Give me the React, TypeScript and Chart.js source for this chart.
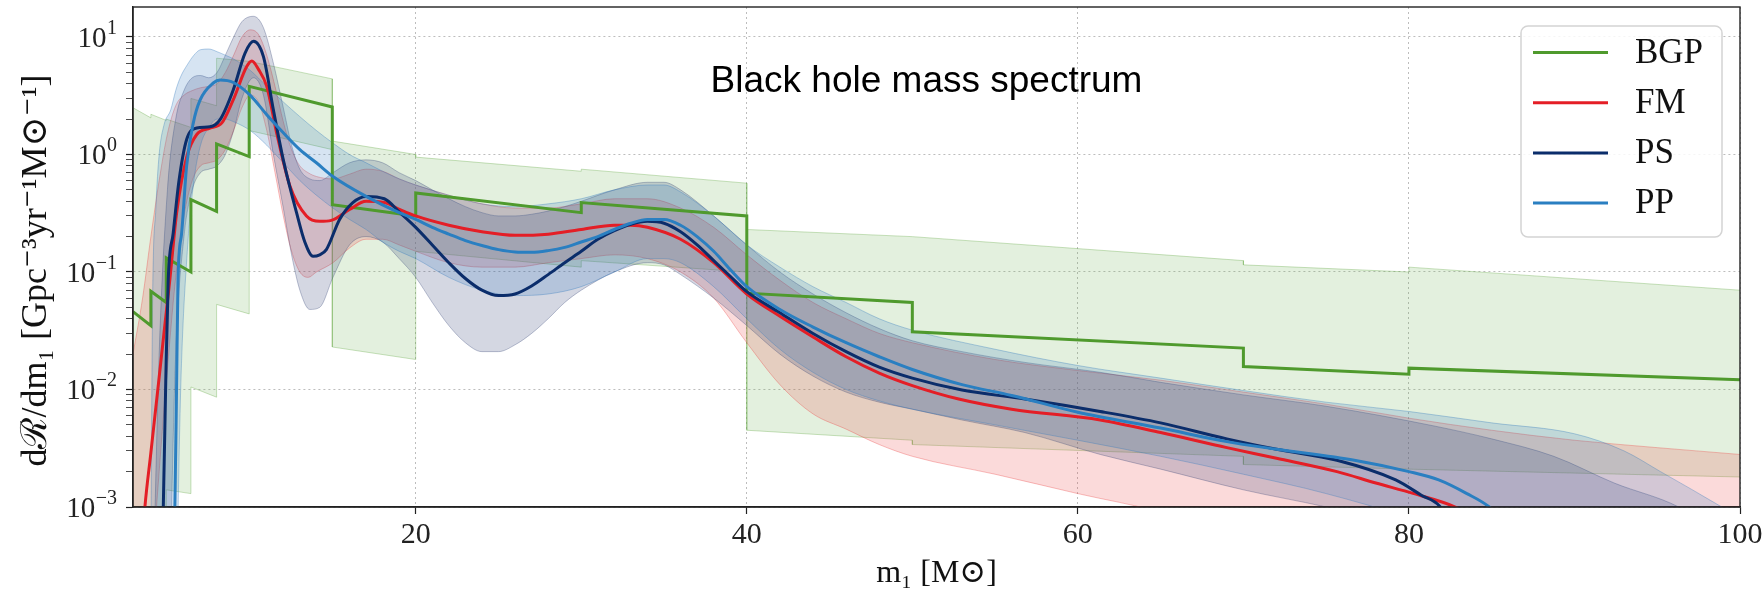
import React, { useEffect, useRef } from "react";
import { Chart, registerables } from "chart.js";

Chart.register(...registerables);

// ---------------- data ----------------
const xTickValues = [20, 40, 60, 80, 100];
const xTickLabels = ["20", "40", "60", "80", "100"];
const yTickValues = [0.001, 0.01, 0.1, 1, 10];
const yTickBase = "10";
const yTickExponents = ["−3", "−2", "−1", "0", "1"];
const yMinorTicks = [
  0.002, 0.003, 0.004, 0.005, 0.006, 0.007, 0.008, 0.009,
  0.02, 0.03, 0.04, 0.05, 0.06, 0.07, 0.08, 0.09,
  0.2, 0.3, 0.4, 0.5, 0.6, 0.7, 0.8, 0.9,
  2, 3, 4, 5, 6, 7, 8, 9,
];

const seriesLabels = ["BGP", "FM", "PS", "PP"];

// BGP (binned, step-like)
const bgpMass = [2.92, 4.0, 4.0, 4.93, 4.93, 6.42, 6.42, 7.97, 7.97, 9.94, 9.94, 14.96, 14.96, 20, 20, 30, 30, 40, 40, 50, 50, 70, 70, 80, 80, 100];
const bgpRate = [0.046, 0.035, 0.0686, 0.055, 0.132, 0.1, 0.413, 0.328, 1.23, 0.96, 3.8, 2.54, 0.374, 0.3, 0.47, 0.32, 0.39, 0.3, 0.066, 0.055, 0.031, 0.0225, 0.0157, 0.0135, 0.0152, 0.0121];
const bgpHigh = [2.5, 2.05, 2.2, 1.95, 2.0, 1.7, 3.0, 2.6, 6.6, 6.2, 6.2, 4.4, 1.3, 1.0, 0.95, 0.72, 0.75, 0.57, 0.23, 0.2, 0.2, 0.125, 0.115, 0.1, 0.11, 0.07];
const bgpLow = [0.0008, 0.0008, 0.0009, 0.0009, 0.0014, 0.0013, 0.0105, 0.0086, 0.053, 0.044, 1.6, 1.1, 0.023, 0.018, 0.15, 0.11, 0.125, 0.1, 0.0045, 0.0037, 0.0034, 0.0027, 0.0023, 0.0021, 0.0021, 0.0018];

// FM
const fmMass = [3.4, 3.64, 4.0, 4.5, 5.0, 5.15, 5.56, 6.17, 6.77, 7.57, 8.28, 8.98, 9.79, 10.1, 10.5, 11.0, 11.6, 12.4, 13.4, 14.2, 14.9, 16.0, 17.0, 18.1, 19.05, 20, 22, 24, 26, 28, 30, 32, 33, 34, 36, 38, 40, 42, 44, 46, 48, 50, 52.8, 56, 61.35, 65, 69, 72, 75.65, 78, 80.3, 82.8, 84];
const fmRate = [0.00034, 0.001, 0.0029, 0.0127, 0.056, 0.087, 0.32, 0.96, 1.48, 1.68, 1.85, 2.93, 5.6, 6.25, 5.3, 3.8, 1.52, 0.54, 0.3, 0.27, 0.275, 0.34, 0.4, 0.39, 0.34, 0.3, 0.25, 0.22, 0.205, 0.21, 0.23, 0.25, 0.25, 0.24, 0.19, 0.12, 0.065, 0.042, 0.028, 0.019, 0.0138, 0.0108, 0.0083, 0.0068, 0.0055, 0.0043, 0.0032, 0.0026, 0.002, 0.0016, 0.0013, 0.001, 0.0008];
const fmBandMass = [2.92, 3.5, 4.0, 4.5, 5.0, 5.5, 6.0, 6.5, 7.0, 7.5, 8.0, 8.5, 9.0, 9.5, 10.0, 10.5, 11.0, 11.5, 12.0, 12.5, 13.0, 13.5, 14, 15, 16, 17, 18, 19, 20, 22, 24, 26, 28, 30, 32, 34, 36, 38, 40, 42, 44, 46, 48, 50, 55, 60, 65, 70, 75, 80, 85, 90, 95, 100];
const fmHigh = [0.02, 0.06, 0.2, 0.6, 1.5, 2.6, 3.2, 3.5, 3.7, 3.8, 4.0, 5.0, 7.0, 10.0, 11.5, 10.5, 7.0, 3.8, 1.9, 1.1, 0.8, 0.7, 0.65, 0.62, 0.68, 0.75, 0.72, 0.62, 0.55, 0.45, 0.38, 0.35, 0.35, 0.38, 0.42, 0.42, 0.35, 0.24, 0.14, 0.085, 0.055, 0.04, 0.03, 0.025, 0.018, 0.0145, 0.012, 0.0095, 0.0075, 0.0057, 0.0045, 0.0037, 0.0032, 0.0028];
const fmLow = [0.00001, 0.00001, 0.0002, 0.002, 0.015, 0.09, 0.3, 0.6, 0.8, 0.85, 0.9, 1.1, 1.6, 2.5, 3.2, 2.8, 1.6, 0.7, 0.3, 0.15, 0.1, 0.09, 0.1, 0.12, 0.16, 0.19, 0.19, 0.17, 0.15, 0.12, 0.11, 0.11, 0.12, 0.13, 0.14, 0.13, 0.1, 0.06, 0.025, 0.011, 0.0062, 0.0046, 0.0034, 0.0027, 0.0019, 0.0013, 0.0009, 0.0005, 0.0003, 0.0002, 0.0001, 0.0001, 0.0001, 0.0001];

// PS
const psMass = [4.6, 4.75, 4.9, 5.05, 5.35, 5.7, 6.16, 6.77, 7.57, 8.18, 8.98, 9.69, 10.2, 10.8, 11.4, 12.0, 12.8, 13.3, 13.8, 14.2, 14.6, 15.4, 16.2, 17.0, 18.1, 19.05, 20, 21, 22, 23, 24, 25, 26, 27, 28, 29, 30, 31, 32, 33, 34, 35, 36, 37, 38, 39, 40, 42, 44, 46, 48, 50, 53, 56.8, 61.35, 65, 69, 72, 75.65, 79.2, 80.75, 81.9, 82.5];
const psRate = [0.0003, 0.001, 0.012, 0.087, 0.215, 0.6, 1.34, 1.68, 1.72, 1.98, 3.56, 7.3, 9.2, 6.8, 2.4, 0.9, 0.32, 0.18, 0.136, 0.14, 0.155, 0.28, 0.39, 0.44, 0.42, 0.32, 0.24, 0.17, 0.12, 0.088, 0.07, 0.063, 0.065, 0.076, 0.095, 0.12, 0.15, 0.19, 0.225, 0.255, 0.27, 0.26, 0.22, 0.17, 0.125, 0.092, 0.068, 0.045, 0.03, 0.021, 0.0155, 0.0125, 0.0099, 0.0083, 0.0065, 0.0052, 0.0038, 0.0031, 0.0025, 0.0017, 0.00126, 0.001, 0.0007];
const psBandMass = [4.2, 4.5, 5.0, 5.5, 6.0, 6.5, 7.0, 7.5, 8.0, 8.5, 9.0, 9.5, 10.2, 10.8, 11.4, 12.0, 12.5, 13.0, 13.6, 14.2, 15, 16, 17, 18, 19, 20, 21, 22, 23, 24, 25, 26, 27, 28, 29, 30, 32, 34, 35, 36, 38, 40, 42, 44, 46, 48, 50, 53, 56.8, 61.35, 65, 70, 75, 81.5, 85, 88.75, 92.4, 96.3, 98];
const psHigh = [0.0005, 0.02, 0.5, 2.0, 3.5, 4.5, 4.7, 4.5, 5.0, 7.0, 10.0, 13.5, 15.0, 12.0, 6.0, 2.5, 1.2, 0.75, 0.62, 0.6, 0.7, 0.85, 0.9, 0.85, 0.7, 0.6, 0.5, 0.42, 0.36, 0.32, 0.3, 0.3, 0.31, 0.33, 0.36, 0.4, 0.5, 0.58, 0.58, 0.5, 0.3, 0.17, 0.1, 0.065, 0.045, 0.033, 0.026, 0.021, 0.017, 0.014, 0.0115, 0.009, 0.0072, 0.0049, 0.0038, 0.0027, 0.0016, 0.001, 0.0007];
const psLow = [0.00001, 0.00001, 0.00005, 0.02, 0.2, 0.5, 0.7, 0.75, 0.8, 1.0, 1.6, 3.0, 4.5, 3.2, 1.0, 0.35, 0.14, 0.07, 0.048, 0.05, 0.09, 0.17, 0.2, 0.18, 0.13, 0.09, 0.055, 0.035, 0.025, 0.021, 0.021, 0.024, 0.03, 0.04, 0.055, 0.07, 0.1, 0.12, 0.115, 0.095, 0.06, 0.035, 0.02, 0.013, 0.0095, 0.0078, 0.0068, 0.0055, 0.0043, 0.0028, 0.0021, 0.0014, 0.001, 0.0006, 0.0003, 0.0002, 0.0001, 0.0001, 0.0001];

// PP
const ppMass = [5.35, 5.45, 5.55, 5.64, 5.86, 6.16, 6.56, 6.97, 7.77, 8.18, 8.98, 9.99, 11, 12, 13, 14, 15, 17, 19, 20, 21, 22, 23, 24, 25, 26, 27, 28, 29, 30, 31, 32, 33, 34, 35, 36, 37, 38, 39, 40, 42, 44, 46, 48, 50, 53, 56, 60, 65, 69, 72, 76.7, 80, 81.8, 83.5, 84.85, 85.5];
const ppRate = [0.0003, 0.001, 0.01, 0.087, 0.215, 0.8, 1.85, 2.9, 4.06, 4.3, 4.1, 3.2, 2.18, 1.53, 1.1, 0.85, 0.65, 0.44, 0.32, 0.28, 0.24, 0.21, 0.185, 0.168, 0.155, 0.148, 0.147, 0.152, 0.162, 0.18, 0.2, 0.23, 0.26, 0.28, 0.28, 0.25, 0.2, 0.15, 0.105, 0.075, 0.048, 0.034, 0.025, 0.019, 0.0148, 0.011, 0.0089, 0.0064, 0.0047, 0.0036, 0.0031, 0.0025, 0.002, 0.0017, 0.0013, 0.001, 0.0008];
const ppBandMass = [4.0, 4.1, 4.3, 4.5, 4.8, 5.2, 5.5, 5.8, 6.2, 6.6, 7.0, 7.5, 8.0, 8.5, 9.0, 10, 11, 12, 13, 14, 15, 16, 17, 18, 19, 20, 22, 24, 26, 28, 30, 32, 34, 35, 36, 38, 40, 42, 44, 46, 48, 50, 55, 60, 65, 70, 75, 80, 85, 90, 93, 95.2, 98.9, 100];
const ppHigh = [0.0005, 0.05, 0.35, 1.0, 1.8, 2.4, 3.5, 4.6, 5.8, 7.0, 7.8, 7.9, 7.5, 7.0, 6.5, 5.2, 3.8, 2.8, 2.1, 1.6, 1.25, 1.0, 0.85, 0.72, 0.62, 0.55, 0.45, 0.38, 0.36, 0.38, 0.42, 0.5, 0.55, 0.55, 0.48, 0.3, 0.17, 0.11, 0.075, 0.055, 0.04, 0.032, 0.022, 0.016, 0.0125, 0.0098, 0.0078, 0.0065, 0.0052, 0.0042, 0.003, 0.002, 0.001, 0.0008];
const ppLow = [0.00001, 0.00001, 0.00001, 0.00001, 0.00001, 0.00001, 0.0001, 0.01, 0.15, 0.6, 1.2, 1.7, 2.0, 2.0, 1.9, 1.6, 1.2, 0.85, 0.6, 0.45, 0.35, 0.28, 0.23, 0.18, 0.15, 0.13, 0.09, 0.07, 0.063, 0.065, 0.075, 0.1, 0.13, 0.13, 0.12, 0.075, 0.04, 0.022, 0.014, 0.01, 0.008, 0.0068, 0.005, 0.0037, 0.0027, 0.0019, 0.0013, 0.0008, 0.0004, 0.0002, 0.0001, 0.0001, 0.0001, 0.0001];

const chartTitle = "Black hole mass spectrum";
const xAxisTitle = "m₁ [M⊙]";
const yAxisTitle = "dℛ/dm₁ [Gpc⁻³yr⁻¹M⊙⁻¹]   ";

// ---------------- styling ----------------
const SERIF = "'Liberation Serif', 'DejaVu Serif', serif";
const SANS = "'Liberation Sans', Arial, sans-serif";
const lineColors = ["#4f9a2d", "#e41e26", "#0b2d6b", "#2a7fc1"];
const bandFill = [
  "rgba(100,170,70,0.18)",
  "rgba(235,70,70,0.2)",
  "rgba(40,55,110,0.2)",
  "rgba(50,120,190,0.2)",
];
const bandEdge = [
  "rgba(100,170,70,0.35)",
  "rgba(235,70,70,0.35)",
  "rgba(40,55,110,0.3)",
  "rgba(50,120,190,0.35)",
];

const pts = (xs: number[], ys: number[]) => xs.map((x, i) => ({ x, y: ys[i] }));
const isMajor = (v: number) => yTickValues.some((t) => Math.abs(t - v) / t < 1e-6);

export default function App() {
  const ref = useRef<HTMLCanvasElement>(null);

  useEffect(() => {
    document.body.style.margin = "0";
    const canvas = ref.current;
    if (!canvas) return;

    const bandPair = (k: number, xs: number[], lo: number[], hi: number[], smooth: boolean, order: number) => [
      {
        label: seriesLabels[k] + " low",
        data: pts(xs, lo),
        borderColor: bandEdge[k],
        backgroundColor: bandFill[k],
        borderWidth: 1,
        pointRadius: 0,
        fill: false,
        tension: 0,
        cubicInterpolationMode: smooth ? "monotone" : "default",
        order,
      },
      {
        label: seriesLabels[k] + " high",
        data: pts(xs, hi),
        borderColor: bandEdge[k],
        backgroundColor: bandFill[k],
        borderWidth: 1,
        pointRadius: 0,
        fill: "-1",
        tension: 0,
        cubicInterpolationMode: smooth ? "monotone" : "default",
        order,
      },
    ];
    const lineDs = (k: number, xs: number[], ys: number[], smooth: boolean, order: number) => ({
      label: seriesLabels[k],
      data: pts(xs, ys),
      borderColor: lineColors[k],
      backgroundColor: lineColors[k],
      borderWidth: 3,
      pointRadius: 0,
      fill: false,
      tension: 0,
      cubicInterpolationMode: smooth ? "monotone" : "default",
      order,
      isMainLine: true,
    });

    const datasets: any[] = [
      ...bandPair(0, bgpMass, bgpLow, bgpHigh, false, 20),
      ...bandPair(1, fmBandMass, fmLow, fmHigh, true, 19),
      ...bandPair(2, psBandMass, psLow, psHigh, true, 18),
      ...bandPair(3, ppBandMass, ppLow, ppHigh, true, 17),
      lineDs(0, bgpMass, bgpRate, false, 3),
      lineDs(1, fmMass, fmRate, true, 2),
      lineDs(2, psMass, psRate, true, 1),
      lineDs(3, ppMass, ppRate, true, 0),
    ];

    const decorPlugin = {
      id: "frameAndDecor",
      afterDatasetsDraw(chart: any) {
        const { ctx, chartArea: a } = chart;
        ctx.save();
        // title inside the plot
        ctx.fillStyle = "#000";
        ctx.font = `37px ${SANS}`;
        ctx.textAlign = "center";
        ctx.textBaseline = "alphabetic";
        ctx.fillText(chartTitle, (a.left + a.right) / 2 - 10, a.top + 85);
        // frame (all four spines)
        ctx.strokeStyle = "#222";
        ctx.lineWidth = 1.4;
        ctx.strokeRect(a.left, a.top, a.right - a.left, a.bottom - a.top);
        ctx.restore();
      },
      afterDraw(chart: any) {
        const { ctx, chartArea: a } = chart;
        // y tick labels: 10 with raised exponent
        const ys = chart.scales.y;
        ctx.save();
        ctx.fillStyle = "#222";
        ctx.textAlign = "right";
        ctx.textBaseline = "alphabetic";
        const rightEdge = a.left - 16;
        yTickValues.forEach((v, i) => {
          const py = ys.getPixelForValue(v);
          const base = py + 10;
          ctx.font = `20px ${SERIF}`;
          const ew = ctx.measureText(yTickExponents[i]).width;
          ctx.fillText(yTickExponents[i], rightEdge, base - 13);
          ctx.font = `29px ${SERIF}`;
          ctx.fillText(yTickBase, rightEdge - ew - 0.5, base);
        });
        ctx.restore();

        // legend
        const lines = chart.data.datasets.filter((d: any) => d.isMainLine);
        const bx = a.right - 219;
        const by = a.top + 19;
        const bw = 201;
        const bh = 211;
        ctx.save();
        ctx.beginPath();
        (ctx as any).roundRect(bx, by, bw, bh, 7);
        ctx.fillStyle = "rgba(255,255,255,0.85)";
        ctx.fill();
        ctx.strokeStyle = "#d4d4d4";
        ctx.lineWidth = 1.5;
        ctx.stroke();
        ctx.font = `35px ${SERIF}`;
        ctx.textAlign = "left";
        ctx.textBaseline = "middle";
        lines.forEach((d: any, i: number) => {
          const y = by + 26.5 + i * 50.2;
          ctx.strokeStyle = d.borderColor;
          ctx.lineWidth = 3;
          ctx.beginPath();
          ctx.moveTo(bx + 12, y);
          ctx.lineTo(bx + 87, y);
          ctx.stroke();
          ctx.fillStyle = "#111";
          ctx.fillText(d.label, bx + 114, y + 1);
        });
        ctx.restore();
      },
    };

    const chart = new Chart(canvas, {
      type: "line",
      data: { datasets },
      options: {
        animation: false,
        responsive: false,
        devicePixelRatio: 1,
        layout: { padding: { top: 7, right: 23, bottom: 0, left: 0 } },
        elements: { line: { capBezierPoints: false } },
        plugins: {
          legend: { display: false },
          tooltip: { enabled: false },
          title: { display: false },
        },
        scales: {
          x: {
            type: "linear",
            min: 2.92,
            max: 100,
            afterBuildTicks: (s: any) => {
              s.ticks = xTickValues.map((v) => ({ value: v }));
            },
            afterFit: (s: any) => {
              s.height = 86;
              s.paddingLeft = 0;
              s.paddingRight = 0;
            },
            ticks: {
              autoSkip: false,
              maxRotation: 0,
              color: "#222",
              padding: 3,
              font: { family: SERIF, size: 30 },
              callback: (v: any) => {
                const i = xTickValues.indexOf(Number(v));
                return i >= 0 ? xTickLabels[i] : "";
              },
            },
            grid: {
              color: "#bdbdbd",
              lineWidth: 1,
              tickLength: 7,
              tickColor: "#222",
              tickWidth: 1.2,
            },
            border: { color: "#222", width: 1.4, dash: [2, 3] },
            title: {
              display: true,
              text: xAxisTitle,
              color: "#111",
              font: { family: SERIF, size: 32 },
              padding: { top: 0, bottom: 0 },
            },
          },
          y: {
            type: "logarithmic",
            min: 0.001,
            max: 18,
            afterBuildTicks: (s: any) => {
              s.ticks = [...yMinorTicks, ...yTickValues]
                .sort((a, b) => a - b)
                .map((v) => ({ value: v }));
            },
            afterFit: (s: any) => {
              s.width = 133;
              s.paddingTop = 0;
              s.paddingBottom = 0;
            },
            ticks: {
              display: false,
              autoSkip: false,
            },
            grid: {
              color: (c: any) => (c.tick && isMajor(c.tick.value) ? "#bdbdbd" : "rgba(0,0,0,0)"),
              lineWidth: 1,
              tickLength: 7,
              tickColor: "#222",
              tickWidth: (c: any) => (c.tick && isMajor(c.tick.value) ? 1.2 : 0.8),
            },
            border: { color: "#222", width: 1.4, dash: [2, 3] },
            title: {
              display: true,
              text: yAxisTitle,
              color: "#111",
              font: { family: SERIF, size: 36 },
              padding: { top: 15, bottom: 0 },
            },
          },
        },
      } as any,
      plugins: [decorPlugin],
    });

    return () => chart.destroy();
  }, []);

  return (
    <div style={{ width: 1763, height: 593, background: "#fff" }}>
      <canvas ref={ref} width={1763} height={593} style={{ display: "block" }} />
    </div>
  );
}
